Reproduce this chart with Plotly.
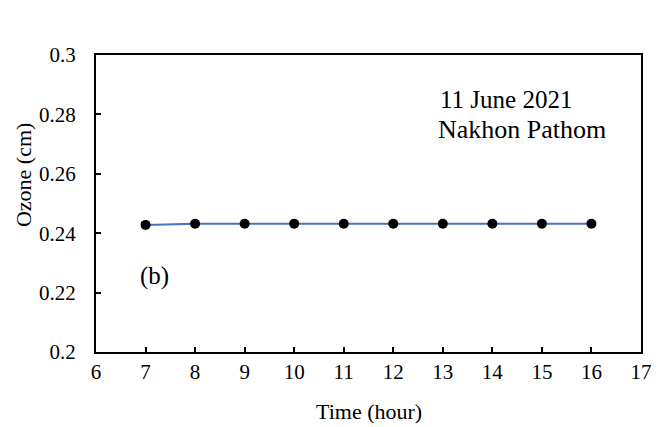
import plotly.graph_objects as go

hours = [7, 8, 9, 10, 11, 12, 13, 14, 15, 16]
ozone = [0.2428, 0.2432, 0.2432, 0.2432, 0.2432, 0.2432, 0.2432, 0.2432, 0.2432, 0.2432]
x_ticks = list(range(6, 18))
y_ticks = [0.2, 0.22, 0.24, 0.26, 0.28, 0.3]
y_tick_text = ["0.2", "0.22", "0.24", "0.26", "0.28", "0.3"]

FONT = "Liberation Serif, Times New Roman, serif"

fig = go.Figure()
fig.add_trace(go.Scatter(
    x=hours, y=ozone, mode="lines+markers",
    line=dict(color="#4472C4", width=2),
    marker=dict(color="black", size=10),
    showlegend=False,
))

fig.update_layout(
    width=664, height=427,
    margin=dict(l=96, r=15, t=55, b=75),
    paper_bgcolor="white", plot_bgcolor="white",
    font=dict(family=FONT, size=21, color="black"),
    xaxis=dict(
        range=[6, 17], tickvals=x_ticks, ticks="inside", ticklen=5,
        tickcolor="black", tickwidth=1.5, showline=True, linecolor="black", linewidth=2,
        mirror=True, showgrid=False, zeroline=False,
        tickfont=dict(family=FONT, size=21), ticklabelstandoff=0,
    ),
    yaxis=dict(
        range=[0.2, 0.3], tickvals=y_ticks, ticktext=y_tick_text, ticks="inside",
        ticklen=5, tickcolor="black", tickwidth=1.5, showline=True, linecolor="black",
        linewidth=2, mirror=True, showgrid=False, zeroline=False,
        tickfont=dict(family=FONT, size=21), ticklabelstandoff=14,
    ),
    annotations=[
        dict(text="Ozone (cm)", textangle=-90, xref="paper", yref="paper",
             x=-0.132, y=0.596, xanchor="center", yanchor="middle", showarrow=False,
             font=dict(family=FONT, size=22)),
        dict(text="Time (hour)", xref="paper", yref="paper",
             x=0.5, y=-0.202, xanchor="center", yanchor="middle", showarrow=False,
             font=dict(family=FONT, size=22)),
        dict(text="11 June 2021", xref="paper", yref="paper", x=0.627, y=0.85,
             xanchor="left", yanchor="middle", showarrow=False,
             font=dict(family=FONT, size=25)),
        dict(text="Nakhon Pathom", xref="paper", yref="paper", x=0.623, y=0.75,
             xanchor="left", yanchor="middle", showarrow=False,
             font=dict(family=FONT, size=26)),
        dict(text="(b)", xref="paper", yref="paper", x=0.077, y=0.256,
             xanchor="left", yanchor="middle", showarrow=False,
             font=dict(family=FONT, size=25)),
    ],
)

fig.write_html("out.html")
